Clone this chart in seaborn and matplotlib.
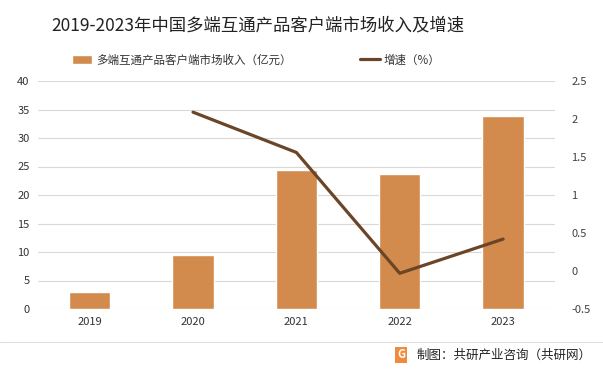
import matplotlib
matplotlib.use("Agg")
import matplotlib.pyplot as plt
import seaborn as sns
import pandas as pd
import numpy as np

years = ["2019", "2020", "2021", "2022", "2023"]
revenue = [3.0, 9.5, 24.4, 23.7, 33.9]
growth_years = ["2020", "2021", "2022", "2023"]
growth = [2.09, 1.56, -0.03, 0.42]

sns.set_theme(style="white")
plt.rcParams['font.family'] = ['Noto Sans CJK SC', 'DejaVu Sans']

bar_color = "#D38B4D"
line_color = "#6B4528"

fig = plt.figure(figsize=(6.03, 3.75), dpi=100)
ax = fig.add_axes([0.063, 0.176, 0.857, 0.608])

df = pd.DataFrame({"year": years, "rev": revenue})
sns.barplot(data=df, x="year", y="rev", color=bar_color, width=0.4, ax=ax,
            saturation=1, label="多端互通产品客户端市场收入（亿元）")
ax.set_ylim(0, 40)
ax.set_yticks(np.arange(0, 41, 5))
ax.yaxis.grid(True, color="#D9D9D9", linewidth=0.8)
ax.set_axisbelow(True)
ax.set_xlabel("")
ax.set_ylabel("")
for s in ax.spines.values():
    s.set_visible(False)
ax.tick_params(axis="both", length=0, labelsize=8, colors="#333333", pad=6)

ax2 = ax.twinx()
gdf = pd.DataFrame({"x": [years.index(y) for y in growth_years], "g": growth})
sns.lineplot(data=gdf, x="x", y="g", color=line_color, linewidth=2.3, ax=ax2,
             label="增速（%）")
ax2.set_ylim(-0.5, 2.5)
ax2.set_yticks([-0.5, 0, 0.5, 1, 1.5, 2, 2.5])
ax2.set_yticklabels(["-0.5", "0", "0.5", "1", "1.5", "2", "2.5"])
ax2.set_ylabel("")
ax2.set_xlabel("")
for s in ax2.spines.values():
    s.set_visible(False)
ax2.tick_params(axis="y", length=0, labelsize=8, colors="#404040", pad=12)
ax2.grid(False)
ax.set_xlim(-0.5, 4.5)

h1, l1 = ax.get_legend_handles_labels()
h2, l2 = ax2.get_legend_handles_labels()
if ax.get_legend():
    ax.get_legend().remove()
if ax2.get_legend():
    ax2.get_legend().remove()
fig.legend(h1 + h2, l1 + l2, loc="center left", bbox_to_anchor=(72/603, 1 - 60/375),
           ncol=2, frameon=False, fontsize=8.3, columnspacing=5.9,
           handlelength=1.75, handletextpad=0.35, borderpad=0, borderaxespad=0,
           labelcolor="#333333")

fig.text(258/603, 1 - 25/375, "2019-2023年中国多端互通产品客户端市场收入及增速",
         ha="center", va="center", fontsize=12.5, color="#222222")

fig.add_artist(plt.Line2D([0.0, 1.0], [1 - 342/375, 1 - 342/375],
                          color="#E0E0E0", linewidth=0.8))
fig.text(0.665, 1 - 355/375, "G", ha="center", va="center", fontsize=8,
         color="white", fontweight="bold",
         bbox=dict(boxstyle="square,pad=0.15", fc="#F08A3C", ec="none"))
fig.text(0.69, 1 - 355/375, "制图：共研产业咨询（共研网）", ha="left", va="center",
         fontsize=9, color="#222222")

fig.savefig("out.png", dpi=100)
